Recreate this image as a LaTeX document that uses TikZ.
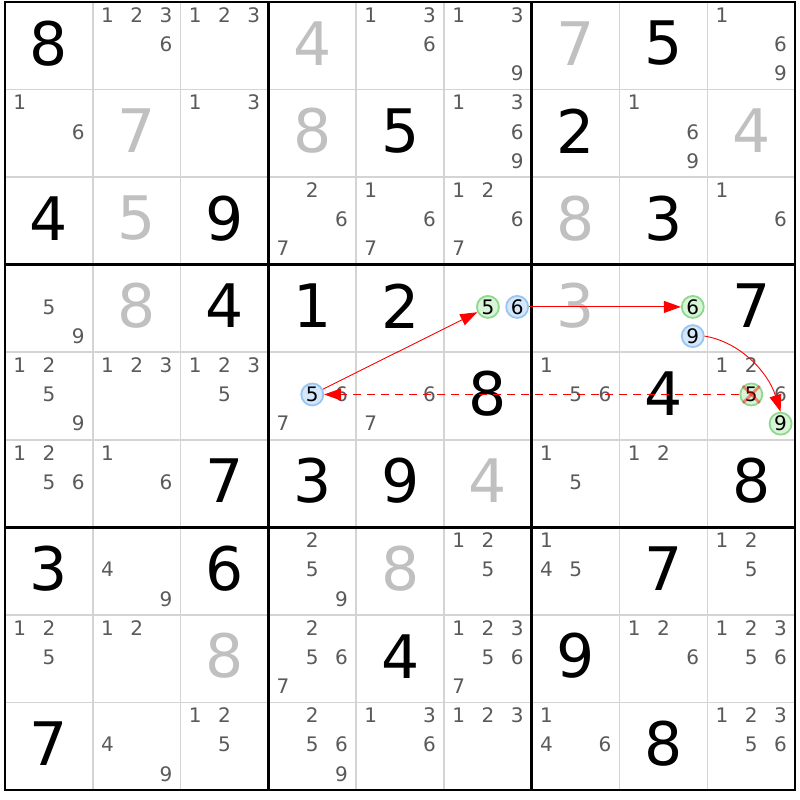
\documentclass[tikz,border=0pt]{standalone}
\usepackage{fontspec}
\setmainfont{DejaVu Sans}
\usepackage{tikz}
\usetikzlibrary{arrows.meta}
\definecolor{solvedgray}{HTML}{C0C0C0}
\definecolor{candgray}{HTML}{5A5A5A}
\definecolor{thingray}{HTML}{D4D4D4}
\definecolor{ongreen}{HTML}{D8F5D8}
\definecolor{ongreenline}{HTML}{8ED98E}
\definecolor{offblue}{HTML}{D5E7FB}
\definecolor{offblueline}{HTML}{98C5F2}
\tikzstyle{given} = [font=\fontsize{60}{60}\selectfont, text=black, inner sep=0pt]
\tikzstyle{solved} = [given, text=solvedgray]
\tikzstyle{cand} = [font=\fontsize{20}{20}\selectfont, text=candgray, inner sep=0pt]
\tikzstyle{oncand} = [circle, minimum size=22pt, inner sep=0pt, line width=1.8pt, draw=ongreenline, fill=ongreen, font=\fontsize{20}{20}\selectfont, text=black]
\tikzstyle{offcand} = [oncand, draw=offblueline, fill=offblue]
\tikzstyle{arrow} = [->, >={Triangle[length=17pt,width=12pt]}, draw=red, line width=0.9pt]
\tikzstyle{xmark} = [draw=red, opacity=0.45, line width=2.8pt]
% cell centres and candidate positions, in pixels
\newcommand{\cx}[1]{5+(#1-0.5)*87.8}
\newcommand{\cy}[1]{2+(#1-0.5)*87.55-2.5}
\newcommand{\given}[3]{\node[given] (g#1#2) at ({\cx{#2}},{\cy{#1}}) {#3};}
\newcommand{\solved}[3]{\node[solved] (g#1#2) at ({\cx{#2}},{\cy{#1}}) {#3};}
\newcommand{\cands}[3]{%
  \foreach \d in {#3}{%
    \pgfmathtruncatemacro{\sc}{mod(\d-1,3)}%
    \pgfmathtruncatemacro{\sr}{floor((\d-1)/3)}%
    \node[cand] (p#1#2\d) at ({5+(#2-1)*87.8+(\sc+0.5)*29.27},{2+(#1-1)*87.55+(\sr+0.5)*29.18-1.5}) {\d};
  }}
\newcommand{\candpos}[3]{{5+(#2-1)*87.8+(mod(#3-1,3)+0.5)*29.27},{2+(#1-1)*87.55+(floor((#3-1)/3)+0.5)*29.18-1.5}}

\begin{document}
\begin{tikzpicture}[x=1pt, y=-1pt]
  \fill[white] (0,0) rectangle (800,800);
  \useasboundingbox (0,0) rectangle (800,800);

  % grid
  \foreach \i in {1,2,4,5,7,8}{
    \draw[thingray, line width=1.6pt] ({5+\i*87.8},2) -- ({5+\i*87.8},790);
    \draw[thingray, line width=1.6pt] (5,{2+\i*87.55}) -- (795,{2+\i*87.55});
  }
  \foreach \i in {3,6}{
    \draw[black, line width=2.8pt] ({5+\i*87.8},2) -- ({5+\i*87.8},790);
    \draw[black, line width=2.8pt] (5,{2+\i*87.55}) -- (795,{2+\i*87.55});
  }
  \draw[black, line width=2.8pt] (5,2) rectangle (795,790);

  % row 1
  \given{1}{1}{8}  \cands{1}{2}{1,2,3,6}  \cands{1}{3}{1,2,3}
  \solved{1}{4}{4} \cands{1}{5}{1,3,6}    \cands{1}{6}{1,3,9}
  \solved{1}{7}{7} \given{1}{8}{5}        \cands{1}{9}{1,6,9}
  % row 2
  \cands{2}{1}{1,6} \solved{2}{2}{7}      \cands{2}{3}{1,3}
  \solved{2}{4}{8}  \given{2}{5}{5}       \cands{2}{6}{1,3,6,9}
  \given{2}{7}{2}   \cands{2}{8}{1,6,9}   \solved{2}{9}{4}
  % row 3
  \given{3}{1}{4}     \solved{3}{2}{5}    \given{3}{3}{9}
  \cands{3}{4}{2,6,7} \cands{3}{5}{1,6,7} \cands{3}{6}{1,2,6,7}
  \solved{3}{7}{8}    \given{3}{8}{3}     \cands{3}{9}{1,6}
  % row 4
  \cands{4}{1}{5,9} \solved{4}{2}{8} \given{4}{3}{4}
  \given{4}{4}{1}   \given{4}{5}{2}
  \solved{4}{7}{3}  \given{4}{9}{7}
  % row 5
  \cands{5}{1}{1,2,5,9} \cands{5}{2}{1,2,3} \cands{5}{3}{1,2,3,5}
  \cands{5}{4}{6,7}     \cands{5}{5}{6,7}   \given{5}{6}{8}
  \cands{5}{7}{1,5,6}   \given{5}{8}{4}     \cands{5}{9}{1,2,6}
  % row 6
  \cands{6}{1}{1,2,5,6} \cands{6}{2}{1,6} \given{6}{3}{7}
  \given{6}{4}{3}       \given{6}{5}{9}   \solved{6}{6}{4}
  \cands{6}{7}{1,5}     \cands{6}{8}{1,2} \given{6}{9}{8}
  % row 7
  \given{7}{1}{3}     \cands{7}{2}{4,9}   \given{7}{3}{6}
  \cands{7}{4}{2,5,9} \solved{7}{5}{8}    \cands{7}{6}{1,2,5}
  \cands{7}{7}{1,4,5} \given{7}{8}{7}     \cands{7}{9}{1,2,5}
  % row 8
  \cands{8}{1}{1,2,5}   \cands{8}{2}{1,2}   \solved{8}{3}{8}
  \cands{8}{4}{2,5,6,7} \given{8}{5}{4}     \cands{8}{6}{1,2,3,5,6,7}
  \given{8}{7}{9}       \cands{8}{8}{1,2,6} \cands{8}{9}{1,2,3,5,6}
  % row 9
  \given{9}{1}{7}       \cands{9}{2}{4,9}   \cands{9}{3}{1,2,5}
  \cands{9}{4}{2,5,6,9} \cands{9}{5}{1,3,6} \cands{9}{6}{1,2,3}
  \cands{9}{7}{1,4,6}   \given{9}{8}{8}     \cands{9}{9}{1,2,3,5,6}

  % chain candidates
  \node[oncand]  (five46) at (\candpos{4}{6}{5}) {5};
  \node[offcand] (six46)  at (\candpos{4}{6}{6}) {6};
  \node[oncand]  (six48)  at (\candpos{4}{8}{6}) {6};
  \node[offcand] (nine48) at (\candpos{4}{8}{9}) {9};
  \node[offcand] (five54) at (\candpos{5}{4}{5}) {5};
  \node[oncand]  (five59) at (\candpos{5}{9}{5}) {5};
  \node[oncand]  (nine59) at (\candpos{5}{9}{9}) {9};
  \draw[xmark] (five59.north west) -- (five59.south east);
  \draw[xmark] (five59.north east) -- (five59.south west);

  \draw[arrow] (five54) -- (five46);
  \draw[arrow] (six46) -- (six48);
  \draw[arrow] (nine48.east) .. controls (740,342) and (768,372) .. (nine59.north);
  \draw[arrow, dash pattern=on 8pt off 6pt] (five59) -- (five54);
\end{tikzpicture}
\end{document}
